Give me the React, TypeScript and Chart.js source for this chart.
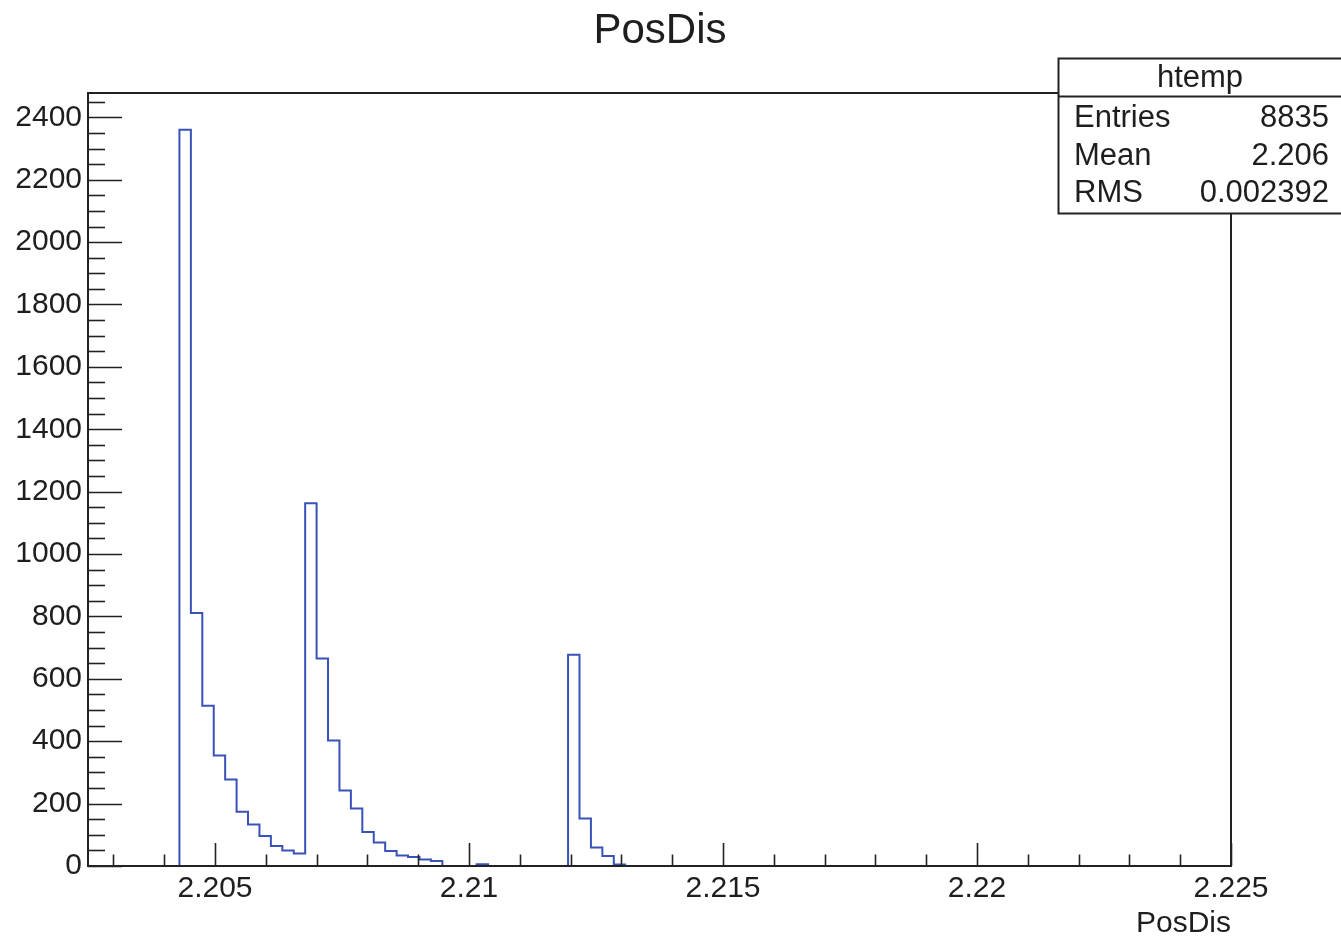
import React, { useEffect, useRef } from 'react';
import { Chart, registerables } from 'chart.js';

Chart.register(...registerables);

const histTitle = 'PosDis';
const xAxisTitle = 'PosDis';
const binLow = 2.2025;
const binHigh = 2.225;
// 100 bins, counts
const binCounts = [
  0, 0, 0, 0, 0, 0, 0, 0, 2360, 811,
  514, 354, 277, 174, 133, 96, 64, 50, 40, 1163,
  665, 402, 242, 184, 109, 75, 48, 34, 29, 21,
  16, 0, 0, 0, 6, 0, 0, 0, 0, 0,
  0, 0, 677, 152, 59, 32, 5, 0, 0, 0,
  0, 0, 0, 0, 0, 0, 0, 0, 0, 0,
  0, 0, 0, 0, 0, 0, 0, 0, 0, 0,
  0, 0, 0, 0, 0, 0, 0, 0, 0, 0,
  0, 0, 0, 0, 0, 0, 0, 0, 0, 0,
  0, 0, 0, 0, 0, 0, 0, 0, 0, 0,
];
const xTickValues = [2.205, 2.21, 2.215, 2.22, 2.225];
const xTickLabels = ['2.205', '2.21', '2.215', '2.22', '2.225'];
const yTickValues = [0, 200, 400, 600, 800, 1000, 1200, 1400, 1600, 1800, 2000, 2200, 2400];
const yMax = 2478;
const statsName = 'htemp';
const statsLabels = ['Entries', 'Mean', 'RMS'];
const statsValues = ['8835', '2.206', '0.002392'];

const FONT = "'Liberation Sans', Arial, Helvetica, sans-serif";
const TEXT = '#1e1e1e';
const LINE = '#3852b8';

const rootPlugin = {
  id: 'rootDecor',
  afterDatasetsDraw(chart: any) {
    const { ctx, chartArea, scales } = chart;
    const { left, right, top, bottom } = chartArea;
    const xs = scales.x;
    const ys = scales.y;
    ctx.save();
    // frame
    ctx.strokeStyle = '#222';
    ctx.lineWidth = 2;
    ctx.strokeRect(left, top, right - left, bottom - top);
    // y ticks (inside, on left)
    ctx.lineWidth = 1.6;
    const yMajLen = 34;
    const yMinLen = 17;
    for (let k = 0; k * 50 <= yMax; k++) {
      const v = k * 50;
      const py = Math.round(ys.getPixelForValue(v)) + 0.5;
      const len = k % 4 === 0 ? yMajLen : yMinLen;
      ctx.beginPath();
      ctx.moveTo(left, py);
      ctx.lineTo(left + len, py);
      ctx.stroke();
    }
    // x ticks (inside, on bottom)
    const xMajLen = 23;
    const xMinLen = 11.5;
    for (let k = 2203; k <= 2225; k++) {
      const v = k / 1000;
      const px = Math.round(xs.getPixelForValue(v)) + 0.5;
      const len = k % 5 === 0 ? xMajLen : xMinLen;
      ctx.beginPath();
      ctx.moveTo(px, bottom);
      ctx.lineTo(px, bottom - len);
      ctx.stroke();
    }
    ctx.restore();
  },
  afterDraw(chart: any) {
    const { ctx, chartArea } = chart;
    ctx.save();
    ctx.fillStyle = TEXT;
    // title
    ctx.font = `42px ${FONT}`;
    ctx.textAlign = 'center';
    ctx.textBaseline = 'alphabetic';
    ctx.fillText(histTitle, 660, 43);
    // axis title
    ctx.font = `30px ${FONT}`;
    ctx.textAlign = 'right';
    ctx.fillText(xAxisTitle, chartArea.right, 932);
    // stats box
    const bx = 1058.5;
    const by = 58.5;
    const bw = 1345 - bx;
    const bh = 213.5 - by;
    ctx.fillStyle = '#ffffff';
    ctx.fillRect(bx, by, bw, bh);
    ctx.strokeStyle = '#222';
    ctx.lineWidth = 2;
    ctx.strokeRect(bx, by, bw, bh);
    ctx.beginPath();
    ctx.moveTo(bx, 96.5);
    ctx.lineTo(bx + bw, 96.5);
    ctx.stroke();
    ctx.fillStyle = TEXT;
    ctx.font = `31px ${FONT}`;
    ctx.textAlign = 'center';
    ctx.fillText(statsName, 1200, 87);
    const rowBase = [127, 164.5, 202];
    statsLabels.forEach((lab, i) => {
      ctx.textAlign = 'left';
      ctx.fillText(lab, 1074, rowBase[i]);
      ctx.textAlign = 'right';
      ctx.fillText(statsValues[i], 1329, rowBase[i]);
    });
    ctx.restore();
  },
};

export default function App() {
  const canvasRef = useRef<HTMLCanvasElement | null>(null);

  useEffect(() => {
    document.body.style.margin = '0';
    const canvas = canvasRef.current;
    if (!canvas) return;
    const binWidth = (binHigh - binLow) / binCounts.length;
    const points = binCounts.map((c, i) => ({ x: binLow + i * binWidth, y: c }));
    points.push({ x: binHigh, y: binCounts[binCounts.length - 1] });

    const chart = new Chart(canvas, {
      type: 'line',
      data: {
        datasets: [
          {
            label: histTitle,
            data: points,
            stepped: true,
            borderColor: LINE,
            borderWidth: 2,
            pointRadius: 0,
            fill: false,
            tension: 0,
          },
        ],
      },
      options: {
        animation: false,
        responsive: false,
        maintainAspectRatio: false,
        layout: { padding: { top: 93, right: 110, left: 0, bottom: 0 } },
        plugins: {
          legend: { display: false },
          tooltip: { enabled: false },
          title: { display: false },
        },
        scales: {
          x: {
            type: 'linear',
            min: binLow,
            max: binHigh,
            grid: { display: false, drawTicks: false },
            border: { display: false },
            ticks: {
              font: { family: FONT, size: 30 },
              color: TEXT,
              padding: 5,
              maxRotation: 0,
              autoSkip: false,
              callback: (_v: any, i: number) => xTickLabels[i],
            },
            afterBuildTicks: (s: any) => {
              s.ticks = xTickValues.map((v) => ({ value: v }));
            },
            afterFit: (s: any) => {
              s.height = 72;
            },
          },
          y: {
            type: 'linear',
            min: 0,
            max: yMax,
            grid: { display: false, drawTicks: false },
            border: { display: false },
            ticks: {
              font: { family: FONT, size: 30 },
              color: TEXT,
              padding: 6,
              autoSkip: false,
              callback: (v: any) => String(v),
            },
            afterBuildTicks: (s: any) => {
              s.ticks = yTickValues.map((v) => ({ value: v }));
            },
            afterFit: (s: any) => {
              s.width = 88;
            },
          },
        },
      },
      plugins: [rootPlugin],
    });
    return () => chart.destroy();
  }, []);

  return (
    <div style={{ width: 1341, height: 938 }}>
      <canvas ref={canvasRef} width={1341} height={938} style={{ display: 'block' }} />
    </div>
  );
}
